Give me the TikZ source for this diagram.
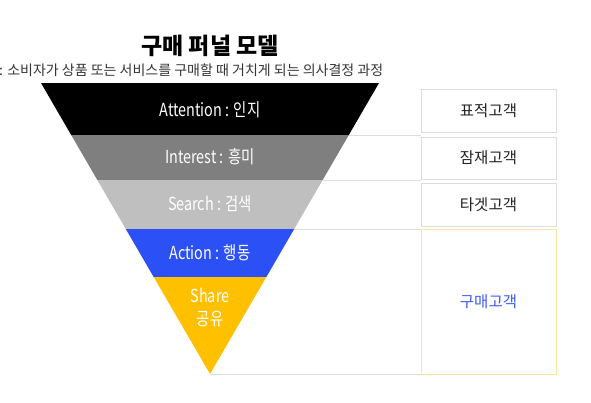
\documentclass[tikz,border=0pt]{standalone}
\usepackage{fontspec}
\setmainfont{Noto Sans CJK KR}
\newfontfamily\bandfont[FakeStretch=0.8]{Noto Sans CJK KR}
\usepackage{xcolor}
\definecolor{bandgray}{HTML}{7F7F7F}
\definecolor{bandsilver}{HTML}{BFBFBF}
\definecolor{bandblue}{HTML}{2B50F5}
\definecolor{bandgold}{HTML}{FFC000}
\definecolor{guideline}{HTML}{DDDDDD}
\definecolor{goldline}{HTML}{FFE699}
\definecolor{buyblue}{HTML}{3D5AF1}

\tikzset{
  bandtext/.style={text=white, inner sep=0pt, font=\bandfont\fontsize{18}{20}\selectfont},
  custbox/.style={draw=guideline, minimum width=135pt, inner sep=0pt,
    font=\fontsize{15.5}{17}\selectfont, text=black!87},
  guide/.style={draw=guideline, line width=0.7pt},
}

\begin{document}
\begin{tikzpicture}[x=1pt,y=-1pt]
\useasboundingbox (0,0) rectangle (591,402);

\node[font=\fontsize{23}{26}\selectfont\bfseries] (title) at (210,46) {구매 퍼널 모델};
\node[font=\fontsize{14}{16}\selectfont, text=black!80, anchor=west, inner sep=0pt] (subtitle) at (-1,70)
  {: 소비자가 상품 또는 서비스를 구매할 때 거치게 되는 의사결정 과정};

% funnel corners
\coordinate (apex) at (210,374);
\foreach \n/\y in {t/83, a/135, b/180, c/229, d/277}{
  \coordinate (\n-l) at ({210-0.5808*(374-\y)},\y);
  \coordinate (\n-r) at ({210+0.5808*(374-\y)},\y);
}

\fill (t-l) -- (t-r) -- (a-r) -- (a-l) -- cycle;
\foreach \u/\v/\c in {a/b/bandgray, b/c/bandsilver, c/d/bandblue}
  \fill[\c] (\u-l) -- (\u-r) -- (\v-r) -- (\v-l) -- cycle;
\fill[bandgold] (d-l) -- (d-r) -- (apex) -- cycle;

\node[bandtext] (attention) at (210,110) {Attention : 인지};
\node[bandtext] (interest) at (210,157) {Interest : 흥미};
\node[bandtext] (search) at (210,204) {Search : 검색};
\node[bandtext] (action) at (210,253) {Action : 행동};
\node[bandtext, align=center, font=\bandfont\fontsize{18}{23}\selectfont] (share) at (210,308) {Share\\공유};

\node[custbox, minimum height=43pt] (target) at (488.5,110.5) {표적고객};
\node[custbox, minimum height=42pt] (prospect) at (488.5,158) {잠재고객};
\node[custbox, minimum height=43pt] (targeted) at (488.5,204.5) {타겟고객};
\node[custbox, draw=goldline, text=buyblue, minimum height=145pt] (buyer) at (488.5,301.5) {구매고객};

\foreach \p in {a-r, b-r, c-r, apex}
  \draw[guide] (\p) -- (\p -| buyer.west);
%
\end{tikzpicture}
\end{document}
